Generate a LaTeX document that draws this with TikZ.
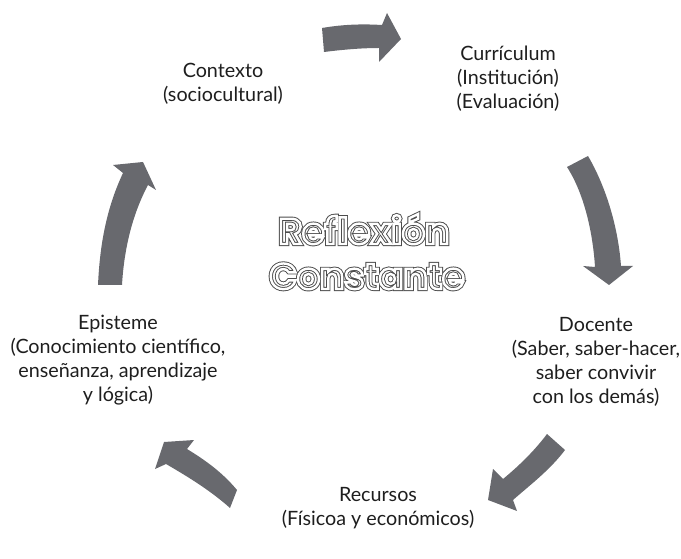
\documentclass[tikz,border=0pt]{standalone}
\usepackage{fontspec}
\setmainfont{Lato}
\newfontfamily\ctrfont{Poppins}
\definecolor{arrgray}{RGB}{104,105,110}
\definecolor{txtgray}{RGB}{30,30,30}
% outlined text via PDF text render mode: #1 = mode, #2 = line width (bp), #3 = stroke gray, #4 = text
\newcommand{\outlinetext}[4]{\special{pdf:literal direct #1 Tr #2 w #3 G 1 g}#4\special{pdf:literal direct 0 Tr 1 w 0 G 0 g}}
\begin{document}
\begin{tikzpicture}[x=0.75pt,y=-0.75pt,
  lbl/.style={align=center,font=\fontsize{14.8}{18}\selectfont,text=txtgray,inner sep=0pt},
  bigarrow/.style={fill=arrgray,draw=none},
  ctr/.style={font=\ctrfont\bfseries\fontsize{27}{30}\selectfont,inner sep=0pt,anchor=base}]
\useasboundingbox (0,0) rectangle (681,559);
% arrows
\path[bigarrow] (322,28) .. controls (345,24) and (365,24) .. (382,25) -- (387,13) -- (401,39) -- (379,62) -- (379,48) .. controls (360,48) and (340,50) .. (324,52) -- cycle;
\path[bigarrow] (567,167) -- (588,156) .. controls (605,185) and (618,225) .. (621,266) -- (633,266) -- (609,285) -- (583,266) -- (595,267) .. controls (593,235) and (585,195) .. (567,167) -- cycle;
\path[bigarrow] (547,434) -- (565,450) .. controls (550,470) and (530,485) .. (513,500) -- (517,511) -- (488,500) -- (493,469) -- (503,479) .. controls (520,465) and (535,450) .. (547,434) -- cycle;
\path[bigarrow] (237,490) -- (230,508) .. controls (210,490) and (185,475) .. (166,464) -- (155,469) -- (164,442) -- (194,440) -- (187,449) .. controls (205,460) and (222,472) .. (237,490) -- cycle;
\path[bigarrow] (98,285) -- (122,285) .. controls (124,250) and (132,215) .. (148,185) -- (156,190) -- (143,162) -- (113,165) -- (123,173) .. controls (108,205) and (100,240) .. (98,285) -- cycle;
% labels
\node[lbl] (contexto) at (223,84) {Contexto\\(sociocultural)};
\node[lbl] (curriculum) at (508,79) {Currículum\\(Institución)\\(Evaluación)};
\node[lbl] (docente) at (596,362) {Docente\\(Saber, saber-hacer,\\saber convivir\\con los demás)};
\node[lbl] (recursos) at (378,508) {Recursos\\(Físicoa y económicos)};
\node[lbl] (episteme) at (118,360) {Episteme\\(Conocimiento científico,\\enseñanza, aprendizaje\\y lógica)};
% center outlined text (outer ring + inner line)
\node[ctr] (reflexion) at (364,244) {\outlinetext{2}{3.2}{0.3}{Reflexión}};
\node[ctr] at (364,244) {\outlinetext{1}{1.8}{1}{Reflexión}};
\node[ctr] (constante) at (367,289) {\outlinetext{2}{3.2}{0.3}{Constante}};
\node[ctr] at (367,289) {\outlinetext{1}{1.8}{1}{Constante}};
\end{tikzpicture}
\end{document}
